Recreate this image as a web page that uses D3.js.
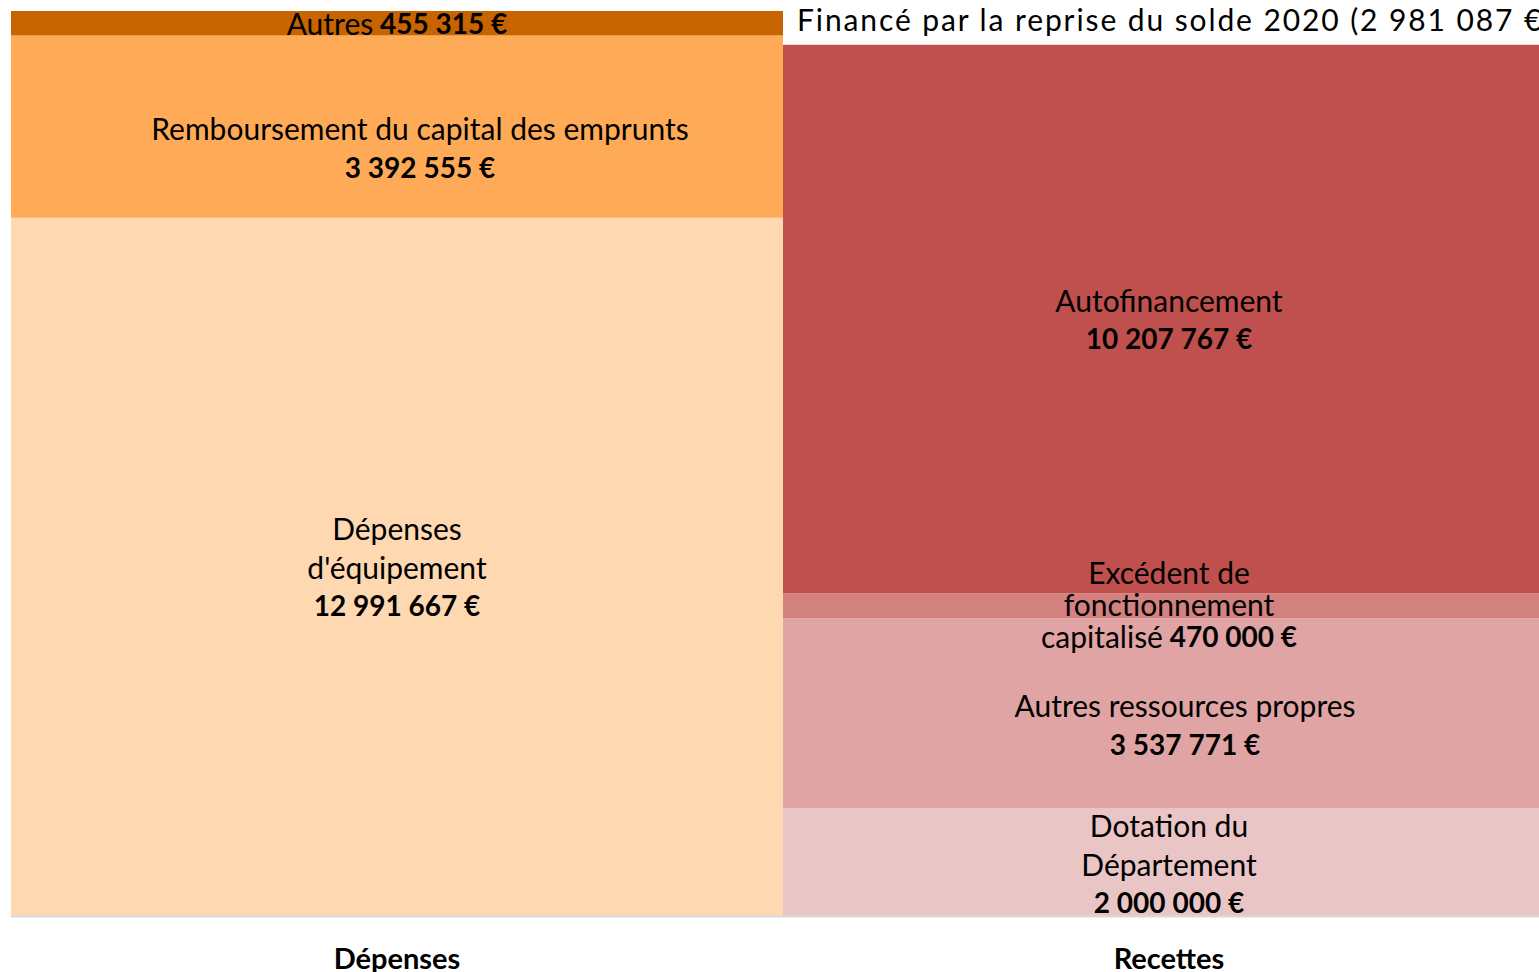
<!DOCTYPE html>
<html>
<head>
<meta charset="utf-8">
<script src="https://cdn.jsdelivr.net/npm/d3@7"></script>
<style>
  body { margin: 0; background: #fff; overflow: hidden; }
  text { font-family: Lato, "Open Sans", sans-serif; fill: #000; }
</style>
</head>
<body>
<svg id="chart" width="1539" height="972"></svg>
<script>
// data
const categories = ["Dépenses", "Recettes"];

const depensesNames = ["Dépenses\nd'équipement", "Remboursement du capital des emprunts", "Autres"];
const depensesValues = [12991667, 3392555, 455315];

const recettesNames = ["Dotation du\nDépartement", "Autres ressources propres", "Excédent de\nfonctionnement\ncapitalisé", "Autofinancement", "Financé par la reprise du solde 2020"];
const recettesValues = [2000000, 3537771, 470000, 10207767, 2981087];

// colours, bottom to top
const depensesColors = ["#FED8B1", "#FFAA56", "#C86400"];
const recettesColors = ["#EAC5C6", "#E0A4A4", "#D38280", "#C0504D", "#FFFFFF"];

const svg = d3.select("#chart");
const fontSize = 30;     // regular label text
const boldSize = 28;     // bold amounts

const locale = d3.formatLocale({ decimal: ",", thousands: " ", grouping: [3], currency: ["", " €"] });
const euro = locale.format("$,.0f");

const x = d3.scaleBand().domain(categories).range([11, 1555]).padding(0);
const y = d3.scaleLinear().domain([0, d3.sum(depensesValues)]).range([916, 11]);

// stack each column into segments
function stackSegments(cat, names, values, colors) {
  let acc = 0;
  return names.map((n, i) => {
    const seg = { cat, name: n, value: values[i], y0: acc, y1: acc + values[i], color: colors[i] };
    acc += values[i];
    return seg;
  });
}
const segments = stackSegments("Dépenses", depensesNames, depensesValues, depensesColors)
  .concat(stackSegments("Recettes", recettesNames, recettesValues, recettesColors));

svg.append("g")
  .selectAll("rect")
  .data(segments)
  .join("rect")
  .attr("x", d => x(d.cat))
  .attr("width", x.bandwidth())
  .attr("y", d => y(d.y1))
  .attr("height", d => y(d.y0) - y(d.y1))
  .attr("fill", d => d.color);

// axis line
svg.append("line")
  .attr("x1", x.range()[0]).attr("x2", x.range()[1])
  .attr("y1", y(0) + 0.5).attr("y2", y(0) + 0.5)
  .attr("stroke", "#d9d9d9").attr("stroke-width", 2);

// label tweaks (Excel moved some labels around to avoid overlap)
const labelTweaks = {
  "Remboursement du capital des emprunts": { dx: 23, dy: 21 },
  "Autres": { inline: true },
  "Dotation du\nDépartement": { dy: 1.5 },
  "Autres ressources propres": { dx: 16, dy: 11 },
  "Excédent de\nfonctionnement\ncapitalisé": { inline: true, lineH: 32, dy: -2 },
  "Autofinancement": {}
};

const labels = svg.append("g");
segments.forEach(d => {
  const cx = x(d.cat) + x.bandwidth() / 2;
  const cy = (y(d.y0) + y(d.y1)) / 2;
  const lines = d.name.split("\n");

  if (y(d.y1) < 0) {
    // segment runs past the top: label pinned at the top edge
    labels.append("text")
      .attr("x", x(d.cat) + 14).attr("y", 19)
      .attr("dominant-baseline", "central")
      .attr("font-size", fontSize)
      .attr("letter-spacing", 1.9)
      .text(`${d.name} (${euro(d.value)})`);
    return;
  }

  const t = labelTweaks[d.name] || {};
  const lineH = t.lineH || 38.5;
  const rows = lines.map(l => [{ s: l, bold: false }]);
  if (t.inline) rows[rows.length - 1].push({ s: " " + euro(d.value), bold: true });
  else rows.push([{ s: euro(d.value), bold: true }]);

  const top = cy + (t.dy || 0) - (rows.length - 1) * lineH / 2;
  rows.forEach((parts, i) => {
    const txt = labels.append("text")
      .attr("x", cx + (t.dx || 0))
      .attr("y", top + i * lineH)
      .attr("text-anchor", "middle")
      .attr("dominant-baseline", "central");
    parts.forEach(p => {
      txt.append("tspan")
        .attr("font-weight", p.bold ? "bold" : "normal")
        .attr("font-size", p.bold ? boldSize : fontSize)
        .style("white-space", "pre")
        .text(p.s);
    });
  });
});

// category labels
svg.append("g")
  .selectAll("text")
  .data(categories)
  .join("text")
  .attr("x", d => x(d) + x.bandwidth() / 2)
  .attr("y", 957)
  .attr("text-anchor", "middle")
  .attr("dominant-baseline", "central")
  .attr("font-size", 29)
  .attr("font-weight", "bold")
  .text(d => d);
</script>
</body>
</html>
